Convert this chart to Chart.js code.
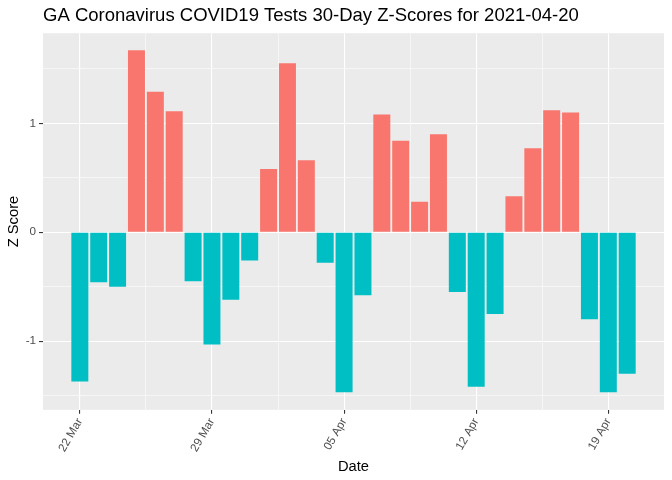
<!DOCTYPE html>
<html>
<head>
<meta charset="utf-8">
<script src="https://cdn.jsdelivr.net/npm/chart.js@4"></script>
<style>
  body { margin: 0; background: #ffffff; }
  #wrap { width: 672px; height: 480px; }
</style>
</head>
<body>
<div id="wrap"><canvas id="myChart"></canvas></div>
<script>
// one bar per day, 22 Mar .. 20 Apr 2021
const days = ['22 Mar','23 Mar','24 Mar','25 Mar','26 Mar','27 Mar','28 Mar','29 Mar','30 Mar','31 Mar',
              '01 Apr','02 Apr','03 Apr','04 Apr','05 Apr','06 Apr','07 Apr','08 Apr','09 Apr','10 Apr',
              '11 Apr','12 Apr','13 Apr','14 Apr','15 Apr','16 Apr','17 Apr','18 Apr','19 Apr','20 Apr'];
const zScores = [-1.37, -0.46, -0.50, 1.67, 1.29, 1.11, -0.45, -1.03, -0.62, -0.26,
                  0.58, 1.55, 0.66, -0.28, -1.47, -0.58, 1.08, 0.84, 0.28, 0.90,
                 -0.55, -1.42, -0.75, 0.33, 0.77, 1.12, 1.10, -0.80, -1.47, -1.30];
const xTickLabels = ['22 Mar', '29 Mar', '05 Apr', '12 Apr', '19 Apr'];
const yTickLabels = [-1, 0, 1];

const posColor = '#F8766D';
const negColor = '#00BFC4';

Chart.defaults.font.family = "'Liberation Sans', Arial, sans-serif";

// major x positions (day index) and the minor ones halfway between
const xMajor = xTickLabels.map(l => days.indexOf(l));
const xTicks = [];
xMajor.forEach((v, i) => {
  xTicks.push(v);
  if (i < xMajor.length - 1) xTicks.push((v + xMajor[i + 1]) / 2);
});
const yTicks = [-1.5, -1, -0.5, 0, 0.5, 1, 1.5];

const isMajor = c => c.tick && Number.isInteger(c.tick.value);

// ggplot-ish grey panel
const panelBg = {
  id: 'panelBg',
  beforeDraw(chart) {
    const { ctx, chartArea: a } = chart;
    ctx.save();
    ctx.fillStyle = '#EBEBEB';
    ctx.fillRect(a.left, a.top, a.right - a.left, a.bottom - a.top);
    ctx.restore();
  }
};

const ctx = document.getElementById('myChart');
new Chart(ctx, {
  type: 'bar',
  data: {
    datasets: [{
      label: 'Z Score',
      data: zScores.map((z, i) => ({ x: i, y: z })),
      backgroundColor: zScores.map(z => z >= 0 ? posColor : negColor),
      borderWidth: 0,
      barPercentage: 0.9,
      categoryPercentage: 1.0
    }]
  },
  options: {
    responsive: true,
    maintainAspectRatio: false,
    animation: false,
    layout: { padding: { left: 1, right: 8, bottom: 4, top: 0 } },
    plugins: {
      legend: { display: false },
      tooltip: { enabled: false },
      title: {
        display: true,
        text: 'GA Coronavirus COVID19 Tests 30-Day Z-Scores for 2021-04-20',
        align: 'start',
        fullSize: false,
        color: '#000000',
        font: { size: 18.5, weight: 'normal' },
        padding: { top: 5, bottom: 6 }
      }
    },
    scales: {
      x: {
        type: 'linear',
        min: -1.95,
        max: days.length - 1 + 1.95,
        offset: false,
        afterBuildTicks: axis => { axis.ticks = xTicks.map(v => ({ value: v })); },
        ticks: {
          autoSkip: false,
          minRotation: 60,
          maxRotation: 60,
          color: '#4D4D4D',
          font: { size: 11.7 },
          padding: 2,
          callback: v => Number.isInteger(v) ? days[v] : ''
        },
        grid: {
          offset: false,
          color: '#FFFFFF',
          lineWidth: c => isMajor(c) ? 1.1 : 0.55,
          tickColor: c => isMajor(c) ? '#333333' : 'rgba(0,0,0,0)',
          tickWidth: 1.1,
          tickLength: 4
        },
        border: { display: false },
        title: {
          display: true,
          text: 'Date',
          color: '#000000',
          font: { size: 14.7 },
          padding: { top: 2, bottom: 0 }
        }
      },
      y: {
        min: -1.631,
        max: 1.827,
        afterBuildTicks: axis => { axis.ticks = yTicks.map(v => ({ value: v })); },
        ticks: {
          color: '#4D4D4D',
          font: { size: 11.7 },
          padding: 3,
          callback: v => yTickLabels.includes(v) ? String(v) : ''
        },
        grid: {
          color: '#FFFFFF',
          lineWidth: c => isMajor(c) ? 1.1 : 0.55,
          tickColor: c => isMajor(c) ? '#333333' : 'rgba(0,0,0,0)',
          tickWidth: 1.1,
          tickLength: 4
        },
        border: { display: false },
        title: {
          display: true,
          text: 'Z Score',
          color: '#000000',
          font: { size: 14.7 },
          padding: { top: 4, bottom: 0 }
        }
      }
    }
  },
  plugins: [panelBg]
});
</script>
</body>
</html>
